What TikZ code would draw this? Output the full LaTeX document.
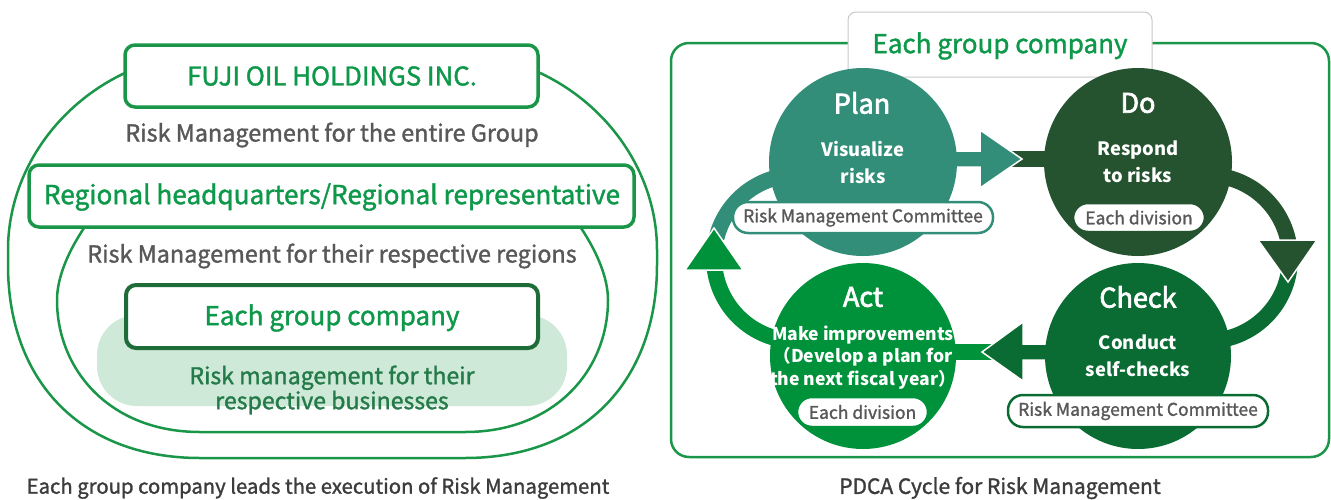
\documentclass[tikz,border=0pt]{standalone}
\usepackage{fontspec}
\setmainfont{Noto Sans CJK JP}
\newfontfamily\medfont[RawFeature={embolden=1.4}]{Noto Sans CJK JP}
\newfontfamily\titfont[RawFeature={embolden=2.6}]{Noto Sans CJK JP}
\definecolor{lgreen}{RGB}{26,150,72}
\definecolor{tgreen}{RGB}{14,152,74}
\definecolor{dkbox}{RGB}{30,108,56}
\definecolor{mint}{RGB}{206,233,215}
\definecolor{gtext}{RGB}{88,88,88}
\definecolor{captext}{RGB}{60,60,60}
\definecolor{bizgreen}{RGB}{36,122,72}
\definecolor{cplan}{RGB}{50,142,120}
\definecolor{cdo}{RGB}{37,82,47}
\definecolor{ccheck}{RGB}{10,108,50}
\definecolor{cact}{RGB}{0,146,58}
\definecolor{tabgray}{RGB}{200,200,200}
\tikzset{
  lline/.style={draw=lgreen, line width=2.5pt},
  hbox/.style={rectangle, draw=lgreen, line width=3.5pt, fill=white, rounded corners=10pt, inner sep=0pt},
  fs/.style 2 args={font=\medfont\fontsize{#1}{#2}\selectfont},
  gtxt/.style={text=gtext, inner sep=0pt},
  circ/.style={circle, inner sep=0pt},
  head/.style={draw=white, line width=1.5pt, line join=miter},
  pill/.style={rectangle, fill=white, line width=2.5pt, rounded corners=15pt, inner sep=0pt, text=gtext, font=\medfont\fontsize{17.5}{21}\selectfont},
  wt/.style={text=white, inner sep=0pt, align=center},
  ttl/.style={wt, font=\titfont\fontsize{27}{30}\selectfont},
  sub/.style 2 args={wt, font=\bfseries\fontsize{#1}{#2}\selectfont},
}
\begin{document}
\begin{tikzpicture}[x=1pt,y=-1pt]
\useasboundingbox (0,0) rectangle (1331,499);
% ---------------- left diagram ----------------
\fill[mint, rounded corners=40pt] (97,315) rectangle (567,406);
\draw[lline] (127,72) .. controls (55,105) and (8,175) .. (8,250) -- (8,265)
  .. controls (8,380) and (80,458) .. (200,458) -- (465,458)
  .. controls (585,458) and (657,380) .. (657,265) -- (657,250)
  .. controls (657,175) and (610,105) .. (538,72);
\draw[lline] (84,228) .. controls (66,255) and (57,280) .. (57,300)
  .. controls (57,370) and (110,432) .. (200,432) -- (465,432)
  .. controls (555,432) and (608,370) .. (608,300)
  .. controls (608,280) and (599,255) .. (581,228);
\node[hbox, minimum width=413pt, minimum height=62pt] (fuji) at (331.5,76) {};
\node[text=tgreen, fs={25.8}{29}] (fujit) at (332,76) {FUJI OIL HOLDINGS INC.};
\node[gtxt, fs={23.4}{27}] (g1) at (332,135) {Risk Management for the entire Group};
\node[hbox, minimum width=605pt, minimum height=62pt] (reg) at (331.5,196) {};
\node[text=tgreen, fs={26.2}{30}] (regt) at (332,197) {Regional headquarters/Regional representative};
\node[gtxt, fs={23.4}{27}] (g2) at (332,256) {Risk Management for their respective regions};
\node[hbox, draw=dkbox, line width=4pt, minimum width=412pt, minimum height=63pt] (egc) at (332,316.5) {};
\node[text=tgreen, fs={26}{30}] (egct) at (332,318) {Each group company};
\node[text=bizgreen, fs={23.1}{25}, align=center, inner sep=0pt] (biz) at (332,390) {Risk management for their\\respective businesses};
\node[text=captext, fs={20.3}{24}, inner sep=0pt] (capl) at (318,488) {Each group company leads the execution of Risk Management};
% ---------------- right diagram ----------------
\draw[lline, rounded corners=18pt] (671,43) rectangle (1329,457);
\filldraw[draw=tabgray, fill=white, line width=1pt, rounded corners=8pt] (848,12) rectangle (1152,77);
\node[text=tgreen, fs={26}{30}] (title) at (1000,46) {Each group company};
% stubs under arrow tips
\fill[cdo] (985,151) rectangle (1050,167);
\fill[cact] (945,344) rectangle (1000,360);
% curved shafts
\draw[cdo, line width=16pt] plot[domain=-118:-8, samples=50] ({1207+83*cos(\x)},{258+83*sin(\x)});
\draw[ccheck, line width=16pt] plot[domain=4:118, samples=50] ({1207+83*cos(\x)},{258+83*sin(\x)});
\draw[cact, line width=16pt] plot[domain=62:186, samples=50] ({797+83*cos(\x)},{258+83*sin(\x)});
\draw[cplan, line width=16pt] plot[domain=194:298, samples=50] ({797+83*cos(\x)},{258+83*sin(\x)});
% straight arrows
\filldraw[head, fill=cplan] (945,151) -- (980,151) -- (980,130) -- (1022,159) -- (980,188) -- (980,167) -- (945,167) -- cycle;
\filldraw[head, fill=ccheck] (1060,344) -- (1023,344) -- (1023,322) -- (982,352) -- (1023,381) -- (1023,360) -- (1060,360) -- cycle;
% curved heads
\filldraw[head, fill=cdo] (1258,240) -- (1317,240) -- (1288,282) -- cycle;
\filldraw[head, fill=cact] (685,270) -- (743,270) -- (714,228) -- cycle;
% circles
\node[circ, fill=cplan, minimum size=188pt] (plan) at (863,162) {};
\node[circ, fill=cdo, minimum size=188pt] (do) at (1138,162) {};
\node[circ, fill=cact, minimum size=186pt] (act) at (863,356) {};
\node[circ, fill=ccheck, minimum size=186pt] (check) at (1138,356) {};
% circle titles
\node[ttl] (plant) at (862,103) {Plan};
\node[ttl] (dot) at (1138,103) {Do};
\node[ttl] (actt) at (863,297) {Act};
\node[ttl] (checkt) at (1138,297) {Check};
% circle texts
\node[sub={18.4}{27}] (plans) at (863,162) {Visualize\\risks};
\node[sub={18.4}{27}] (dos) at (1138,162) {Respond\\to risks};
\node[sub={18.4}{27}] (checks) at (1138,356) {Conduct\\self-checks};
\node[sub={17.6}{22.5}] (acts) at (863,357.5) {Make improvements\\（Develop a plan for\\the next fiscal year）};
% pills
\node[pill, draw=cplan, minimum width=260pt, minimum height=31pt] (pplan) at (863,217.5) {Risk Management Committee};
\node[pill, draw=cdo, minimum width=132pt, minimum height=29pt] (pdo) at (1139,217.5) {Each division};
\node[pill, draw=cact, minimum width=131pt, minimum height=30pt] (pact) at (862.5,412) {Each division};
\node[pill, draw=ccheck, minimum width=260pt, minimum height=32pt] (pcheck) at (1138,411) {Risk Management Committee};
\node[text=captext, fs={21}{24}, inner sep=0pt] (capr) at (1000,488) {PDCA Cycle for Risk Management};
\end{tikzpicture}
\end{document}
